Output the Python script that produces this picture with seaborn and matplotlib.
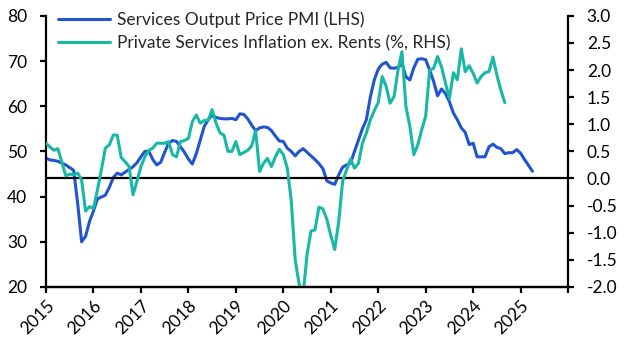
import numpy as np
import pandas as pd
import matplotlib
matplotlib.use("Agg")
import matplotlib.pyplot as plt
import seaborn as sns

# monthly data, starting Jan 2015
pmi_start = 2015
pmi = [
    48.5, 48.1, 48.0, 47.8, 47.4, 47.0, 46.4, 45.8, 38.5, 30.0, 31.2, 34.5,
    36.8, 39.5, 39.9, 40.3, 42.0, 44.2, 45.2, 44.8, 45.4, 46.0, 46.6, 47.5,
    48.8, 50.0, 50.0, 48.2, 47.0, 47.6, 49.8, 51.8, 52.4, 52.2, 51.0, 49.8,
    48.3, 47.2, 49.5, 52.5, 55.5, 57.0, 58.0, 57.5, 57.3, 57.2, 57.2, 57.3,
    57.0, 58.3, 58.2, 57.2, 55.8, 54.6, 55.2, 55.4, 55.3, 54.6, 53.4, 52.3,
    52.2, 50.7, 50.0, 49.0, 50.0, 50.6, 49.8, 49.0, 48.2, 47.3, 46.2, 43.5,
    43.0, 42.7, 44.8, 46.5, 47.0, 47.4, 50.0, 52.5, 55.0, 57.0, 62.0, 65.8,
    68.2, 69.3, 69.7, 68.5, 68.4, 68.6, 69.5, 66.5, 65.8, 68.5, 70.4, 70.5,
    70.3, 68.0, 65.5, 62.3, 63.8, 62.8, 61.0, 58.5, 57.0, 55.2, 54.2, 51.5,
    51.8, 48.8, 48.8, 48.8, 51.0, 51.6, 50.9, 50.6, 49.5, 49.7, 49.7, 50.4,
    49.6, 48.2, 46.9, 45.6,
]
infl = [
    0.65, 0.58, 0.52, 0.55, 0.30, 0.05, 0.08, 0.07, 0.10, -0.03, -0.60, -0.52,
    -0.55, -0.21, 0.16, 0.56, 0.62, 0.80, 0.80, 0.39, 0.31, 0.22, -0.30, -0.05,
    0.22, 0.40, 0.52, 0.56, 0.65, 0.65, 0.65, 0.68, 0.44, 0.40, 0.68, 0.70,
    0.74, 1.05, 1.17, 1.02, 1.07, 1.07, 1.27, 1.02, 0.84, 0.80, 0.50, 0.50,
    0.68, 0.44, 0.48, 0.52, 0.60, 0.88, 0.13, 0.28, 0.37, 0.22, 0.40, 0.54,
    0.44, 0.19, -0.40, -1.50, -1.95, -2.15, -1.40, -0.97, -0.95, -0.53, -0.56, -0.75,
    -1.05, -1.31, -0.80, -0.05, 0.16, 0.36, 0.19, 0.28, 0.65, 0.84, 1.08, 1.25,
    1.40, 1.88, 1.70, 1.39, 1.51, 2.00, 2.34, 1.33, 0.96, 0.44, 0.62, 0.90,
    1.15, 2.00, 2.03, 2.25, 2.06, 1.76, 1.48, 1.95, 1.82, 2.39, 1.97, 2.08,
    1.94, 1.76, 1.88, 1.95, 1.97, 2.24, 1.91, 1.63, 1.40,
]
year_ticks = list(range(2015, 2027))
year_labels = [str(y) for y in range(2015, 2026)] + [""]

pmi_df = pd.DataFrame({"t": pmi_start + np.arange(len(pmi)) / 12, "v": pmi})
infl_df = pd.DataFrame({"t": pmi_start + np.arange(len(infl)) / 12, "v": infl})

BLUE = "#2154cf"
TEAL = "#17b8a5"

sns.set_style("white")
plt.rcParams["font.family"] = ["Lato", "DejaVu Sans"]
plt.rcParams["axes.unicode_minus"] = False

fig, ax = plt.subplots(figsize=(6.27, 3.6), dpi=100)
fig.subplots_adjust(left=0.0734, right=0.906, top=0.956, bottom=0.203)
ax2 = ax.twinx()

sns.lineplot(data=pmi_df, x="t", y="v", ax=ax, color=BLUE, lw=2.2,
             label="Services Output Price PMI (LHS)", legend=False)
sns.lineplot(data=infl_df, x="t", y="v", ax=ax2, color=TEAL, lw=2.2,
             label="Private Services Inflation ex. Rents (%, RHS)", legend=False)
ax2.axhline(0, color="black", lw=1.6, zorder=1)

ax.set_ylim(20, 80)
ax.set_yticks(range(20, 81, 10))
ax2.set_ylim(-2.0, 3.0)
ax2.set_yticks(np.arange(-2.0, 3.01, 0.5))
ax2.set_yticklabels([f"{v:.1f}" for v in np.arange(-2.0, 3.01, 0.5)])
ax.set_xlim(2015, 2026)
ax.set_xticks(year_ticks)
ax.set_xticklabels(year_labels, rotation=45, ha="right", rotation_mode="anchor")

for a in (ax, ax2):
    a.set_xlabel("")
    a.set_ylabel("")
    a.grid(False)
    for side in ("left", "right", "bottom"):
        a.spines[side].set_color("black")
        a.spines[side].set_linewidth(1.6)
    a.spines["top"].set_visible(False)
    a.tick_params(axis="both", labelsize=12.5, colors="black", width=1.6, length=4.5,
                  direction="out")
ax.spines["right"].set_visible(False)
ax2.spines["left"].set_visible(False)
ax.tick_params(axis="x", bottom=True, pad=3)
ax.tick_params(axis="y", left=True, pad=9)
ax2.tick_params(axis="y", right=True, pad=9)

h1, l1 = ax.get_legend_handles_labels()
h2, l2 = ax2.get_legend_handles_labels()
ax2.legend(h1 + h2, l1 + l2, loc="upper left", bbox_to_anchor=(0.0, 1.06),
           frameon=False, fontsize=12.5, handlelength=3.0, handletextpad=0.4,
           labelspacing=0.4, borderaxespad=0.3)

fig.savefig("out.png", dpi=100)
